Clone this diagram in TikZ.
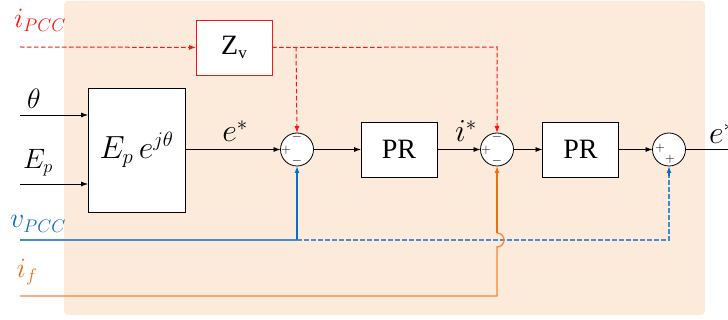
\RequirePackage{fix-cm}
\documentclass[tikz,border=0pt]{standalone}
\usepackage{fontspec}
\newfontfamily\blockfont{Liberation Serif}
\renewcommand{\defaultscriptratio}{.65}
\usetikzlibrary{arrows.meta}
\definecolor{panel}{RGB}{252,234,219}
\definecolor{sigred}{RGB}{255,20,20}
\definecolor{sigblue}{RGB}{10,110,195}
\definecolor{sigbluelight}{RGB}{70,140,210}
\definecolor{sigorange}{RGB}{232,112,25}
\definecolor{sigorangelight}{RGB}{240,135,60}
\begin{document}
\begin{tikzpicture}[x=1pt,y=-1pt,
  every node/.style={inner sep=0pt,outer sep=0pt},
  tip/.style={-{Latex[length=7pt,width=5pt]}},
  blk/.style={draw=black,line width=0.8pt,fill=white,minimum width=76pt,minimum height=55pt,font=\blockfont\fontsize{28}{30}\selectfont},
  sumnode/.style={circle,draw=black,line width=0.8pt,fill=white,minimum size=33pt},
  sgn/.style={font=\fontsize{13}{13}\selectfont},
  lbl/.style={font=\fontsize{28}{30}\selectfont},
  biglbl/.style={font=\fontsize{32}{34}\selectfont},
  wire/.style={line width=0.8pt,draw=black},
  dashy/.style={dash pattern=on 4.5pt off 2.5pt},
  redwire/.style={line width=1pt,draw=sigred,dashy},
  bluewire/.style={line width=1.3pt,draw=sigblue},
  lightbluewire/.style={line width=1.3pt,draw=sigbluelight},
  orangewire/.style={line width=1.3pt,draw=sigorange},
  lightorangewire/.style={line width=1.3pt,draw=sigorangelight}]
\useasboundingbox (0,0) rectangle (728,320);
% background panel
\fill[panel,rounded corners=4pt] (64,1) rectangle (705,315);

% blocks
\node[blk,draw=sigred] (zv) at (234,47.5) {Z\raisebox{-4pt}{\fontsize{17}{17}\selectfont v}};
\node[blk,minimum width=97pt,minimum height=124pt,font=\fontsize{32}{34}\selectfont] (gen) at (136.5,150) {$E_p\,e^{j\theta}$};
\node[blk] (pr1) at (399,149.5) {PR};
\node[blk] (pr2) at (580.5,149.5) {PR};

% summing junctions
\node[sumnode] (s1) at (297,149.5) {};
\node[sumnode] (s2) at (497,149.5) {};
\node[sumnode] (s3) at (669,149.5) {};
\node[sgn] at (286,150.5) {$+$};
\node[sgn] at (297,137) {$-$};
\node[sgn] at (297,161) {$-$};
\node[sgn] at (486,150.5) {$+$};
\node[sgn] at (497,137) {$-$};
\node[sgn] at (497,161) {$-$};
\node[sgn] at (660,148) {$+$};
\node[sgn] at (670,159) {$+$};

% signal labels
\node[lbl,text=sigred] (lipcc) at (40,20) {$i_{PCC}$};
\node[lbl] (ltheta) at (34,99) {$\theta$};
\node[lbl] (lep) at (38,163) {$E_p$};
\node[biglbl] (lestar) at (235,131) {$e^{*}$};
\node[biglbl] (listar) at (466,131) {$i^{*}$};
\node[biglbl,anchor=west] (lout) at (709,133) {$e^{*}$};
\node[lbl,text=sigblue] (lvpcc) at (38,224) {$v_{PCC}$};
\node[lbl,text=sigorange] (lif) at (27,272) {$i_f$};

% coordinates for wire ends and bends
\coordinate (ipccin) at (20,47);
\coordinate (thin) at (20,115);
\coordinate (epin) at (20,184);
\coordinate (vin) at (20,240);
\coordinate (ifin) at (20,296);
\coordinate (zvtap) at (296,47);
\coordinate (zvcorner) at (497,47);
\coordinate (vtap) at (297,240);
\coordinate (vcorner) at (669,240);
\coordinate (s3feed) at (669,176);
\coordinate (ifcorner) at (497,296);
\coordinate (hoplow) at (497,247);
\coordinate (hophigh) at (497,233);
\coordinate (outend) at (730,149.5);

% forward path
\draw[wire,tip] (thin) -- (thin -| gen.west);
\draw[wire,tip] (epin) -- (epin -| gen.west);
\draw[wire,tip] (gen.east |- s1) -- (s1);
\draw[wire,tip] (s1) -- (pr1);
\draw[wire,tip] (pr1) -- (s2);
\draw[wire,tip] (s2) -- (pr2);
\draw[wire,tip] (pr2) -- (s3);
\draw[wire] (s3) -- (outend);

% virtual impedance feedback
\draw[redwire,tip] (ipccin) -- (zv);
\draw[redwire,tip] (zv.east) -- (zvcorner) -- (s2.north);
\draw[redwire,tip] (zvtap) -- (s1.north);

% voltage feedback
\draw[lightbluewire] (vin) -- (vtap);
\draw[bluewire,tip] (vtap) -- (s1.south);
\draw[lightbluewire,dashy] (vtap) -- (vcorner) -- (s3feed);
\draw[bluewire,dashy,tip] (s3feed) -- (s3.south);

% current feedback with a hop over the voltage line
\draw[lightorangewire] (ifin) -- (ifcorner) -- (hoplow)
  arc[start angle=-90,end angle=90,radius=7pt];
\draw[orangewire,tip] (hophigh) -- (s2.south);
\end{tikzpicture}
\end{document}
